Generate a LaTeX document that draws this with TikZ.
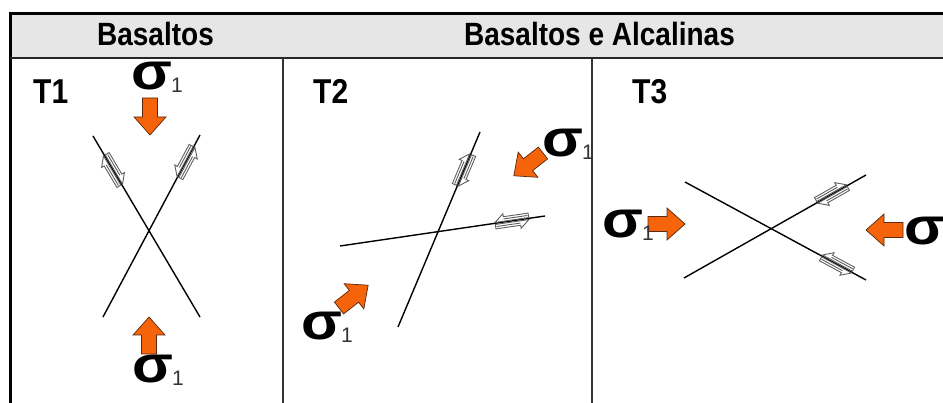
\documentclass[tikz,border=0pt]{standalone}
\usepackage{fontspec}
\setmainfont{Liberation Sans}
\definecolor{hdrgray}{RGB}{230,230,230}
\definecolor{sigorange}{RGB}{245,100,10}
\definecolor{sigedge}{RGB}{90,40,10}
\definecolor{shgray}{RGB}{95,95,95}
\newcommand{\shearpair}[4]{%
\begin{scope}[shift={(#1,#2)}, rotate=#3, xscale=#4, y=1pt]
\draw[shearst] (-17,1) -- (17,1) -- (8,8.5) -- (8,5.5) -- (-17,5.5) -- cycle;
\draw[shearst] (-16,3.25) -- (8,3.25);
\draw[shearst] (17,-1) -- (-17,-1) -- (-8,-8.5) -- (-8,-5.5) -- (17,-5.5) -- cycle;
\draw[shearst] (16,-3.25) -- (-8,-3.25);
\end{scope}}
\newcommand{\sigarrow}[3]{%
\begin{scope}[shift={(#1,#2)}, rotate=#3, y=1pt]
\draw[orangest] (0,-7.5) -- (19,-7.5) -- (19,-16) -- (37,0) -- (19,16) -- (19,7.5) -- (0,7.5) -- cycle;
\end{scope}}
\newcommand{\sigtext}{{\fontsize{52}{52}\selectfont\bfseries\scalebox{1.15}[1]{σ}}\kern-1pt{\fontsize{21}{21}\selectfont\color{black!80}\raisebox{-3pt}{1}}}
\newcommand{\tall}[1]{\scalebox{1}[1.15]{#1}}
\begin{document}
\begin{tikzpicture}[x=1pt,y=-1pt,
  hdr/.style={font=\fontsize{28}{30}\selectfont\bfseries, inner sep=0pt},
  tlab/.style={font=\fontsize{30}{32}\selectfont\bfseries, inner sep=0pt},
  siglab/.style={inner sep=0pt, anchor=base west},
  fault/.style={line width=1.4pt, black},
  shearst/.style={draw=shgray, line width=0.9pt, fill=white, line join=miter},
  orangest/.style={draw=sigedge, line width=0.7pt, fill=sigorange, line join=miter},
  sepline/.style={line width=2pt, black!80}]
\useasboundingbox (0,0) rectangle (943,403);
% table
\fill[hdrgray] (10.3,13.7) rectangle (943,57.8);
\draw[line width=2.7pt, line join=miter] (10.3,403) -- (10.3,13.7) -- (943,13.7);
\draw[line width=2.3pt, black!85] (10.3,57.8) -- (943,57.8);
\draw[sepline] (283,57.8) -- (283,403);
\draw[sepline] (592.3,57.8) -- (592.3,403);
% headers
\node[hdr, anchor=base] (h1) at (155.5,45.5) {\tall{Basaltos}};
\node[hdr, anchor=base] (h2) at (599.5,45.5) {\tall{Basaltos e Alcalinas}};
\node[tlab, anchor=base west] (t1) at (33,104) {\tall{T1}};
\node[tlab, anchor=base west] (t2) at (313,104) {\tall{T2}};
\node[tlab, anchor=base west] (t3) at (632,104) {\tall{T3}};
% faults
\coordinate (a1) at (93,136); \coordinate (a2) at (200,317);
\coordinate (b1) at (200,135); \coordinate (b2) at (103,317);
\coordinate (c1) at (480,132); \coordinate (c2) at (398,327);
\coordinate (d1) at (340,246); \coordinate (d2) at (545,216);
\coordinate (e1) at (685,182); \coordinate (e2) at (866,280);
\coordinate (f1) at (684,278); \coordinate (f2) at (866,175);
\draw[fault] (a1) -- (a2);
\draw[fault] (b1) -- (b2);
\draw[fault] (c1) -- (c2);
\draw[fault] (d1) -- (d2);
\draw[fault] (e1) -- (e2);
\draw[fault] (f1) -- (f2);
% shear senses
\shearpair{113}{170}{-59.4}{1}
\shearpair{186}{162}{61.9}{-1}
\shearpair{464}{170}{67.2}{1}
\shearpair{512}{221}{8.3}{-1}
\shearpair{832}{194}{29.5}{1}
\shearpair{837}{264}{-28.4}{-1}
% sigma arrows
\sigarrow{150}{98}{-90}
\sigarrow{149}{354}{90}
\sigarrow{543}{153}{218}
\sigarrow{339}{308}{38}
\sigarrow{648}{224}{0}
\sigarrow{903}{230}{180}
% sigma labels
\node[siglab] (s1) at (131,90) {\sigtext};
\node[siglab] (s2) at (132,383) {\sigtext};
\node[siglab] (s3) at (542,157) {\sigtext};
\node[siglab] (s4) at (301,340) {\sigtext};
\node[siglab] (s5) at (602,238) {\sigtext};
\node[siglab] (s6) at (904,245) {\sigtext};
\end{tikzpicture}
\end{document}
